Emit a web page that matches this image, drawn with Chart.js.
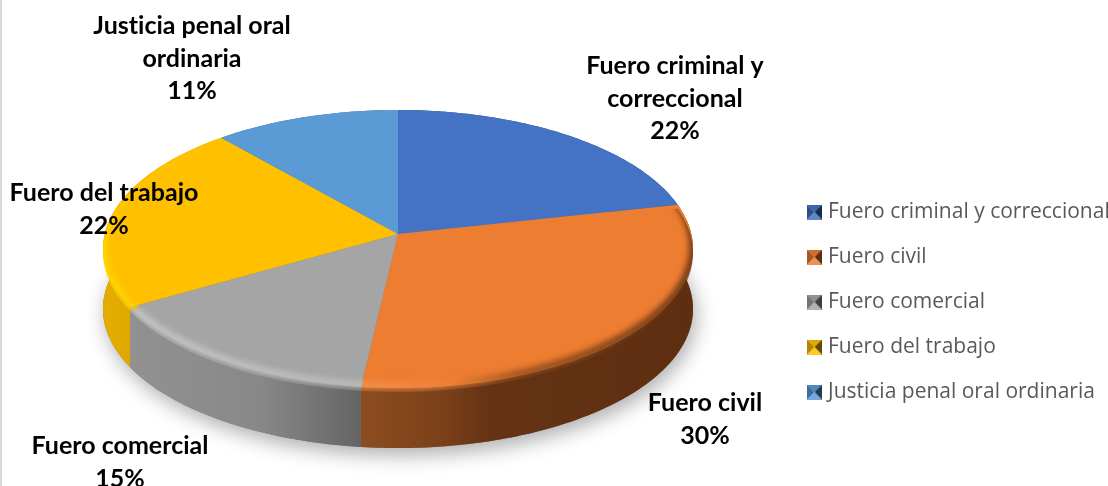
<!DOCTYPE html>
<html>
<head>
<meta charset="utf-8">
<style>
  html, body { margin: 0; padding: 0; background: #fff; }
  body { width: 1108px; height: 486px; overflow: hidden;
         background: linear-gradient(#d9d9d9, #d9d9d9) 0 0 / 2px 100% no-repeat #fff; }
  canvas { display: block; }
</style>
</head>
<body>
<canvas id="chart" width="1108" height="486"></canvas>
<script src="https://cdn.jsdelivr.net/npm/chart.js@4"></script>
<script>
const categories = ['Fuero criminal y correccional', 'Fuero civil', 'Fuero comercial', 'Fuero del trabajo', 'Justicia penal oral ordinaria'];
const values = [21.5, 30.3, 14.8, 22.1, 11.3];
const labelLines = [['Fuero criminal y', 'correccional'], ['Fuero civil'], ['Fuero comercial'], ['Fuero del trabajo'], ['Justicia penal oral', 'ordinaria']];

const COLORS = ['#4472c4', '#ed7d31', '#a5a5a5', '#ffc000', '#5b9bd5'];
// side wall and bevel gradients, as [x, colour] stops
const WALLS = [
  [[400, '#2c4a80'], [693, '#2c4a80']],
  [[363, '#8c4c20'], [440, '#7c4119'], [490, '#653314'], [693, '#5e2e10']],
  [[133, '#919191'], [260, '#888888'], [320, '#737373'], [363, '#636363']],
  [[103, '#e6ad00'], [133, '#dfa600']],
  [[220, '#3a6a96'], [400, '#3a6a96']],
];
const RIMS = [
  null,
  [[363, '#f3924f'], [450, '#ee8238'], [520, '#8f4c1e'], [693, '#5e2e10']],
  [[133, '#c8c8c8'], [363, '#bdbdbd']],
  [[103, '#ffd900'], [133, '#ffd400']],
  null,
];
// centre of each data label, first line y and line step
const LABEL_POS = [[675, 66], [705, 403], [120, 446], [104, 193], [192, 26]];
const LINE_STEP = 32.7;

const DEPTH = 60, TILT = 0.4685, PERSP = -0.108;

function pt(arc, a, dy) {
  const u = Math.cos(a), v = Math.sin(a), w = 1 + PERSP * v, R = arc.outerRadius;
  return [arc.x + R * u / w, arc.y + R * TILT * v / w + (dy || 0)];
}

function rimTo(ctx, arc, a0, a1, dy) {
  const n = Math.max(2, Math.ceil(Math.abs(a1 - a0) * 60));
  for (let i = 0; i <= n; i++) {
    const p = pt(arc, a0 + (a1 - a0) * i / n, dy);
    ctx.lineTo(p[0], p[1]);
  }
}

function grad(ctx, stops) {
  const x0 = stops[0][0], x1 = stops[stops.length - 1][0];
  const g = ctx.createLinearGradient(x0, 0, x1, 0);
  stops.forEach(s => g.addColorStop((s[0] - x0) / (x1 - x0), s[1]));
  return g;
}

const pie3d = {
  id: 'pie3d',
  afterLayout(chart) {
    // pie apex and legend sit at fixed spots of the page
    Object.assign(chart.chartArea, { left: 0, right: 796, top: 0, bottom: 468 });
    const lg = chart.legend, w = lg.width, h = lg.height;
    lg.left = 787.5; lg.right = lg.left + w;
    lg.top = 177.5; lg.bottom = lg.top + h;
  },
  beforeDatasetDraw(chart) {
    const ctx = chart.ctx, arcs = chart.getDatasetMeta(0).data, c = arcs[0];

    // soft shadow under the disc
    ctx.save();
    ctx.shadowColor = 'rgba(0,0,0,0.32)';
    ctx.shadowBlur = 20;
    ctx.shadowOffsetX = 3;
    ctx.shadowOffsetY = 7;
    ctx.fillStyle = '#777';
    ctx.beginPath();
    rimTo(ctx, c, 0, Math.PI * 2, DEPTH);
    ctx.closePath();
    ctx.fill();
    ctx.restore();

    // side wall
    arcs.forEach((arc, i) => {
      ctx.fillStyle = grad(ctx, WALLS[i]);
      ctx.beginPath();
      rimTo(ctx, arc, arc.startAngle, arc.endAngle, 0);
      rimTo(ctx, arc, arc.endAngle, arc.startAngle, DEPTH);
      ctx.closePath();
      ctx.fill();
    });

    // top face with its bevel, the bevel bleeds a little into the wall
    arcs.forEach((arc, i) => {
      ctx.beginPath();
      ctx.moveTo(arc.x, arc.y);
      rimTo(ctx, arc, arc.startAngle, arc.endAngle, 0);
      ctx.closePath();
      ctx.fillStyle = arc.options.backgroundColor;
      ctx.fill();
    });
    arcs.forEach((arc, i) => {
      if (!RIMS[i]) return;
      ctx.save();
      ctx.beginPath();
      ctx.moveTo(arc.x, arc.y);
      rimTo(ctx, arc, arc.startAngle, arc.endAngle, 4);
      ctx.closePath();
      ctx.clip();
      ctx.filter = 'blur(3px)';
      ctx.strokeStyle = grad(ctx, RIMS[i]);
      ctx.lineWidth = 7;
      ctx.beginPath();
      rimTo(ctx, arc, arc.startAngle - 0.05, arc.endAngle + 0.05, -2);
      ctx.stroke();
      ctx.restore();
    });
    return false;
  },
  afterDatasetsDraw(chart) {
    const ctx = chart.ctx;
    ctx.save();
    ctx.font = 'bold 25px Lato';
    ctx.letterSpacing = '0.01px';
    ctx.fillStyle = '#000';
    ctx.textAlign = 'center';
    ctx.textBaseline = 'middle';
    values.forEach((v, i) => {
      const lines = labelLines[i].concat(Math.round(v) + '%');
      lines.forEach((t, j) => ctx.fillText(t, LABEL_POS[i][0], LABEL_POS[i][1] + j * LINE_STEP));
    });
    ctx.restore();
  },
};

// small bevelled legend square
function swatch(color) {
  const s = 15, cv = document.createElement('canvas');
  cv.width = cv.height = s;
  const g = cv.getContext('2d');
  const tri = (pts, fill, shade) => {
    g.beginPath();
    pts.forEach(p => g.lineTo(p[0], p[1]));
    g.closePath();
    g.fillStyle = fill;
    g.fill();
    if (shade) { g.fillStyle = shade; g.fill(); }
  };
  const m = [s / 2, s / 2];
  tri([[0, 0], [s, 0], m], color, 'rgba(0,0,0,0.12)');
  tri([[0, s], [s, s], m], color, 'rgba(255,255,255,0.15)');
  tri([[0, 0], [0, s], m], color, 'rgba(0,0,0,0.3)');
  tri([[s, 0], [s, s], m], color, 'rgba(0,0,0,0.62)');
  return cv;
}

new Chart(document.getElementById('chart'), {
  type: 'pie',
  plugins: [pie3d],
  data: {
    labels: categories,
    datasets: [{ data: values, backgroundColor: COLORS, borderWidth: 0, radius: 293.3 }],
  },
  options: {
    responsive: false,
    animation: false,
    plugins: {
      tooltip: { enabled: false },
      legend: {
        position: 'right',
        align: 'start',
        labels: {
          font: { family: "'Open Sans'", size: 21 },
          color: '#595959',
          usePointStyle: true,
          pointStyleWidth: 6,
          padding: 24,
          generateLabels: () => categories.map((c, i) => ({
            text: c,
            fontColor: '#595959',
            pointStyle: swatch(COLORS[i]),
            index: i,
          })),
        },
      },
    },
  },
});
</script>
</body>
</html>
